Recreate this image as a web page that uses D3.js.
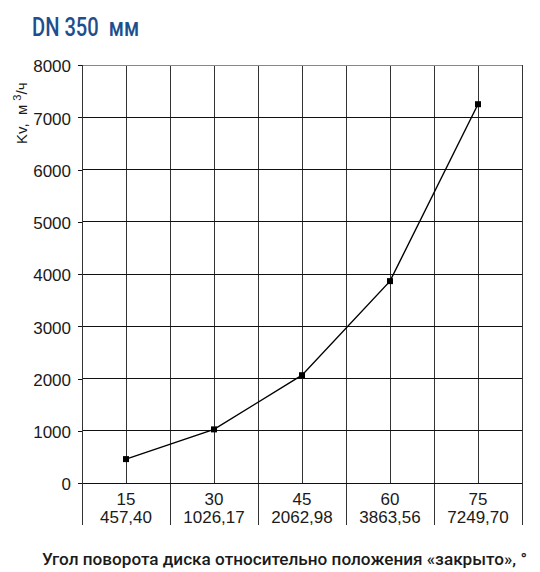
<!DOCTYPE html>
<html>
<head>
<meta charset="utf-8">
<script src="https://cdn.jsdelivr.net/npm/d3@7"></script>
<style>
  html, body { margin: 0; padding: 0; background: #fff; }
  svg { display: block; }
</style>
</head>
<body>
<div id="chart"></div>
<script>
// Flow coefficient Kv vs. disc rotation angle, DN 350
const angles = [15, 30, 45, 60, 75];
const kvValues = [457.40, 1026.17, 2062.98, 3863.56, 7249.70];
const kvLabels = ["457,40", "1026,17", "2062,98", "3863,56", "7249,70"];
const yTicks = [0, 1000, 2000, 3000, 4000, 5000, 6000, 7000, 8000];
const titleText = "DN 350  мм";
const xTitleText = "Угол поворота диска относительно положения «закрыто», °";

const W = 540, H = 572;
const narrow = "'Liberation Sans Narrow', 'Arial Narrow', 'Liberation Sans', Arial, sans-serif";
const svg = d3.select("#chart").append("svg").attr("width", W).attr("height", H);

const x = d3.scaleLinear().domain([7.5, 82.5]).range([82, 522]);
const y = d3.scaleLinear().domain([0, 8000]).range([483, 65]);
const step = 7.5;

// vertical grid lines (every half category)
const vGrid = d3.range(7.5, 82.5 + 0.01, step);
svg.append("g").selectAll("line").data(vGrid).join("line")
  .attr("x1", d => x(d)).attr("x2", d => x(d))
  .attr("y1", y(8000)).attr("y2", y(0))
  .attr("stroke", "#333").attr("stroke-width", 1)
  .attr("shape-rendering", "crispEdges");

// category separators below the axis
const seps = d3.range(7.5, 82.5 + 0.01, 15);
svg.append("g").selectAll("line").data(seps).join("line")
  .attr("x1", d => x(d)).attr("x2", d => x(d))
  .attr("y1", y(0)).attr("y2", 525)
  .attr("stroke", "#333").attr("stroke-width", 1)
  .attr("shape-rendering", "crispEdges");

// horizontal grid lines
svg.append("g").selectAll("line").data(yTicks.filter(d => d > 0 && d < 8000)).join("line")
  .attr("x1", x(7.5)).attr("x2", x(82.5))
  .attr("y1", d => y(d)).attr("y2", d => y(d))
  .attr("stroke", "#111").attr("stroke-width", 1)
  .attr("shape-rendering", "crispEdges");

// top border
svg.append("line")
  .attr("x1", x(7.5)).attr("x2", x(82.5))
  .attr("y1", y(8000)).attr("y2", y(8000))
  .attr("stroke", "#888").attr("stroke-width", 1)
  .attr("shape-rendering", "crispEdges");

// x axis line at zero
svg.append("line")
  .attr("x1", x(7.5) - 4).attr("x2", x(82.5))
  .attr("y1", y(0)).attr("y2", y(0))
  .attr("stroke", "#111").attr("stroke-width", 1)
  .attr("shape-rendering", "crispEdges");

// y axis
const yAxis = d3.axisLeft(y).tickValues(yTicks).tickSize(4).tickPadding(7).tickFormat(d3.format("d"));
const gy = svg.append("g").attr("transform", `translate(${x(7.5)},0)`).call(yAxis);
gy.select(".domain").remove();
gy.selectAll(".tick line").attr("stroke", "#111").attr("shape-rendering", "crispEdges");
gy.selectAll(".tick text")
  .attr("font-family", narrow)
  .attr("font-size", 17).attr("fill", "#1a1a1a").attr("dy", "0.4em");
svg.append("line")
  .attr("x1", x(7.5)).attr("x2", x(7.5))
  .attr("y1", y(8000)).attr("y2", 525)
  .attr("stroke", "#333").attr("stroke-width", 1)
  .attr("shape-rendering", "crispEdges");

// x category labels
const xl = svg.append("g")
  .attr("font-family", narrow)
  .attr("font-size", 17).attr("fill", "#1a1a1a").attr("text-anchor", "middle");
xl.selectAll("text.ang").data(angles).join("text").attr("class", "ang")
  .attr("x", d => x(d)).attr("y", 505).text(d => d);
xl.selectAll("text.kv").data(kvLabels).join("text").attr("class", "kv")
  .attr("x", (d, i) => x(angles[i])).attr("y", 523).text(d => d);

// data line
const pts = angles.map((a, i) => [a, kvValues[i]]);
svg.append("path")
  .datum(pts)
  .attr("fill", "none").attr("stroke", "#000").attr("stroke-width", 1.4)
  .attr("d", d3.line().x(d => x(d[0])).y(d => y(d[1])));

// markers
svg.append("g").selectAll("rect").data(pts).join("rect")
  .attr("x", d => x(d[0]) - 3).attr("y", d => y(d[1]) - 3)
  .attr("width", 6).attr("height", 6).attr("fill", "#000");

// y axis title
const yt = svg.append("text")
  .attr("transform", "translate(27,144) rotate(-90)")
  .attr("font-family", "'Liberation Sans', Arial, sans-serif")
  .attr("font-size", 15).attr("fill", "#1a1a1a")
  .style("white-space", "pre");
yt.append("tspan").text("Kv,  м ");
yt.append("tspan").attr("font-size", 11).attr("dy", -6).text("3");
yt.append("tspan").attr("dy", 6).text("/ч");

// chart title
svg.append("text")
  .attr("x", 32).attr("y", 36)
  .attr("font-family", "Roboto, 'Noto Sans', sans-serif")
  .attr("font-weight", 500)
  .attr("font-size", 25).attr("fill", "#1d4f8e")
  .style("white-space", "pre")
  .attr("textLength", 107).attr("lengthAdjust", "spacingAndGlyphs")
  .text(titleText);

// x axis title
svg.append("text")
  .attr("x", 42).attr("y", 565)
  .attr("font-family", "Roboto, 'Noto Sans', sans-serif")
  .attr("font-weight", 500)
  .attr("font-size", 17).attr("fill", "#1a1a1a")
  .attr("textLength", 485).attr("lengthAdjust", "spacingAndGlyphs")
  .text(xTitleText);
</script>
</body>
</html>
